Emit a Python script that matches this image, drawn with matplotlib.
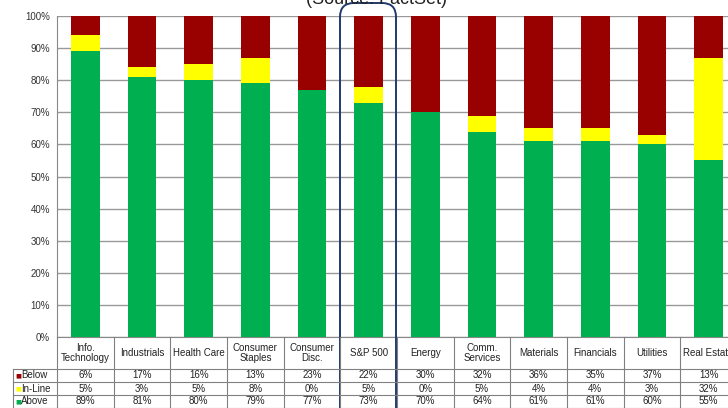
import matplotlib
matplotlib.use('Agg')
import matplotlib.pyplot as plt
from matplotlib.patches import FancyBboxPatch
from matplotlib.lines import Line2D
from matplotlib.transforms import blended_transform_factory, IdentityTransform
import numpy as np

plt.rcParams['font.family'] = ['Liberation Sans', 'DejaVu Sans']

# data
sectors = ['Info.\nTechnology', 'Industrials', 'Health Care', 'Consumer\nStaples',
           'Consumer\nDisc.', 'S&P 500', 'Energy', 'Comm.\nServices', 'Materials',
           'Financials', 'Utilities', 'Real Estate']
below = [6, 17, 16, 13, 23, 22, 30, 32, 36, 35, 37, 13]
inline = [5, 3, 5, 8, 0, 5, 0, 5, 4, 4, 3, 32]
above = [89, 81, 80, 79, 77, 73, 70, 64, 61, 61, 60, 55]
row_names = ['Below', 'In-Line', 'Above']
row_colors = ['#990000', '#FFFF00', '#00B050']

W, H = 728, 408
fig = plt.figure(figsize=(W / 100, H / 100), dpi=100)
ax = fig.add_axes([57 / W, (H - 337) / H, 680 / W, 321 / H])

x = np.arange(len(sectors))
ab = np.array(above)
il = np.array(inline)
bl = np.array(below)
ax.bar(x, ab, width=0.51, color=row_colors[2], zorder=3)
ax.bar(x, il, bottom=ab, width=0.51, color=row_colors[1], zorder=3)
ax.bar(x, bl, bottom=ab + il, width=0.51, color=row_colors[0], zorder=3)

ax.set_xlim(-0.5, len(sectors) - 0.5)
ax.set_ylim(0, 100)
ax.set_yticks(range(0, 101, 10))
ax.set_yticklabels([f'{v}%' for v in range(0, 101, 10)], fontsize=7, color='#333333')
ax.set_xticks([])
ax.tick_params(axis='y', length=0, pad=5)
ax.yaxis.grid(True, color='#999999', lw=1.0, zorder=0)
for s in ['right', 'top']:
    ax.spines[s].set_visible(False)
ax.spines['left'].set_color('#888888')
ax.spines['bottom'].set_color('#888888')

# table under the chart
tr = blended_transform_factory(ax.transData, fig.transFigure)
def fy(py):
    return (H - py) / H

line_c = '#808080'
hdr_top, hdr_bot = 337, 368.5
row_h = 13
for i in range(len(sectors) + 1):
    fig.add_artist(Line2D([i - 0.5, i - 0.5], [fy(hdr_top), fy(hdr_bot + 3 * row_h)],
                          transform=tr, color=line_c, lw=0.8))
for k in range(4):
    yy = fy(hdr_bot + k * row_h)
    fig.add_artist(Line2D([13 / W, 1.0], [yy, yy], transform=fig.transFigure,
                          color=line_c, lw=0.8))
fig.add_artist(Line2D([13 / W, 13 / W], [fy(hdr_bot), fy(hdr_bot + 3 * row_h)],
                      transform=fig.transFigure, color=line_c, lw=0.8))

for i, name in enumerate(sectors):
    fig.text(i, fy((hdr_top + hdr_bot) / 2), name, transform=tr, ha='center', va='center',
             fontsize=7, color='#222222', linespacing=0.95)

rows = [below, inline, above]
for k, (rn, rc, vals) in enumerate(zip(row_names, row_colors, rows)):
    yc = fy(hdr_bot + k * row_h + row_h / 2 + 0.5)
    fig.text(15 / W, yc, '■', fontsize=4.5, color=rc, va='center', ha='left',
             family=['DejaVu Sans'])
    fig.text(21 / W, yc, rn, fontsize=7, color='#222222', va='center', ha='left')
    for i, v in enumerate(vals):
        fig.text(i, yc, f'{v}%', transform=tr, ha='center', va='center',
                 fontsize=7, color='#222222')

# title, cut off at the top
fig.text(376 / W, fy(3.5), '(Source: FactSet)', ha='center', va='baseline', fontsize=13,
         color='#222222')

# highlight around S&P 500
hl = FancyBboxPatch((340, -20), 56, H - 3 + 20, boxstyle='round,pad=0,rounding_size=14',
                    transform=IdentityTransform(), fill=False, ec='#1F3A6E', lw=1.4)
fig.add_artist(hl)

fig.savefig('out.png', dpi=100)
